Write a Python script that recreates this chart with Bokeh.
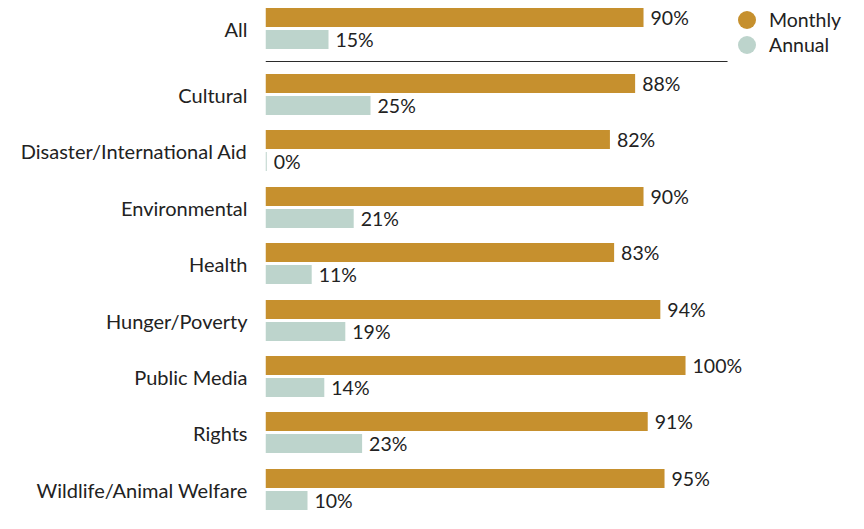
import numpy as np
from bokeh.plotting import figure
from bokeh.models import ColumnDataSource, Range1d, FixedTicker, Legend, LegendItem
from bokeh.core.properties import value
from bokeh.embed import file_html
from bokeh.resources import INLINE

categories = ["All", "Cultural", "Disaster/International Aid", "Environmental", "Health",
              "Hunger/Poverty", "Public Media", "Rights", "Wildlife/Animal Welfare"]
monthly = [90, 88, 82, 90, 83, 94, 100, 91, 95]
annual = [15, 25, 0.3, 21, 11, 19, 14, 23, 10]
series_names = ["Monthly", "Annual"]

MONTHLY_COLOR = "#C6902E"
ANNUAL_COLOR = "#BDD4CC"
TEXT_COLOR = "#222222"
FONT = "Lato"

# layout (pixel-based y units): first group separated by a larger gap
first_gap = 66
pitch = 56.4
ys = [0] + [round(first_gap + pitch * k) for k in range(len(categories) - 1)]
off = 11
bar_h = 19

m_src = ColumnDataSource(dict(y=[y - off for y in ys], v=monthly,
                              lab=[f"{round(v)}%" for v in monthly]))
a_src = ColumnDataSource(dict(y=[y + off for y in ys], v=annual,
                              lab=[f"{round(v)}%" for v in annual]))

p = figure(width=848, height=513, x_range=Range1d(0, 138.8), y_range=Range1d(485, -28),
           output_backend="svg", toolbar_location=None, x_axis_location=None,
           min_border_left=265, min_border_right=0, min_border_top=0, min_border_bottom=0)
p.outline_line_color = None
p.xgrid.visible = False
p.ygrid.visible = False
p.background_fill_color = "white"
p.border_fill_color = "white"

p.hbar(y="y", right="v", left=0, height=bar_h, source=m_src, color=MONTHLY_COLOR, line_color=None)
p.hbar(y="y", right="v", left=0, height=bar_h, source=a_src, color=ANNUAL_COLOR, line_color=None)

for src in (m_src, a_src):
    p.text(x="v", y="y", text="lab", source=src, x_offset=7, text_baseline="middle",
           text_align="left", text_font=value(FONT), text_font_size="19.5px", text_color=TEXT_COLOR)

# separator under "All"
sep_y = (ys[0] + ys[1]) / 2
p.line(x=[0, 110], y=[sep_y, sep_y], line_color="#2b2b2b", line_width=1)

yax = p.yaxis[0]
yax.ticker = FixedTicker(ticks=ys)
yax.major_label_overrides = {y: c for y, c in zip(ys, categories)}
yax.axis_line_color = None
yax.major_tick_line_color = None
yax.minor_tick_line_color = None
yax.major_tick_out = 0
yax.major_tick_in = 0
yax.major_label_standoff = 18
yax.major_label_text_font = FONT
yax.major_label_text_font_size = "20px"
yax.major_label_text_color = TEXT_COLOR

# legend: one single-item legend per series, circle markers (legend marker = 0.4 * glyph box)
nan_src = ColumnDataSource(dict(x=np.array([np.nan]), y=np.array([np.nan])))
for name, color, loc in zip(series_names, [MONTHLY_COLOR, ANNUAL_COLOR], [(459, 471), (459, 446)]):
    r = p.scatter(x="x", y="y", source=nan_src, marker="circle", size=18,
                  fill_color=color, line_color=None)
    lg = Legend(items=[LegendItem(label=name, renderers=[r])],
                location=loc, orientation="vertical",
                border_line_color=None, background_fill_alpha=0,
                padding=0, margin=0, spacing=0,
                glyph_width=45, glyph_height=45, label_height=18, label_standoff=0,
                label_text_font=FONT, label_text_font_size="19.5px", label_text_color=TEXT_COLOR)
    p.add_layout(lg)

open("out.html", "w").write(file_html(p, INLINE))
